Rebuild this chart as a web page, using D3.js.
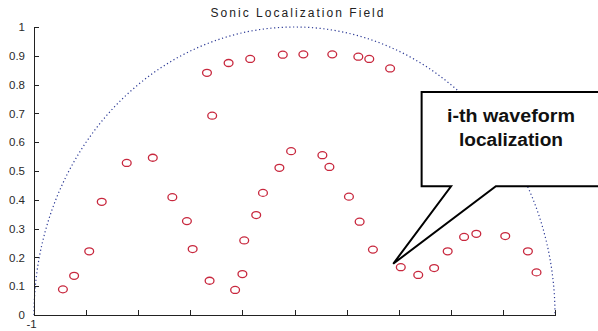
<!DOCTYPE html>
<html>
<head>
<meta charset="utf-8">
<script src="https://cdn.jsdelivr.net/npm/d3@7"></script>
<style>
  html, body { margin: 0; padding: 0; background: #fff; }
  svg { display: block; font-family: "Liberation Sans", Arial, sans-serif; }
  .axis path, .axis line { stroke: #222; shape-rendering: crispEdges; }
  .axis text { font-size: 11.5px; fill: #2a2a2a; }
</style>
</head>
<body>
<div id="chart"></div>
<script>
// localized positions (x, y)
const pointX = [
  -0.889, -0.846, -0.788, -0.740, -0.644, -0.544, -0.469, -0.413, -0.391, -0.326,
  -0.228, -0.200, -0.193, -0.147, -0.121, -0.058, -0.013, 0.107, 0.134, 0.209,
  0.250, 0.301, 0.408, 0.475, 0.536, 0.588, 0.651, 0.698, 0.809, 0.896, 0.929,
  -0.336, -0.316, -0.253, -0.170, -0.045, 0.034, 0.145, 0.245, 0.287, 0.367
];
const pointY = [
  0.089, 0.136, 0.221, 0.393, 0.528, 0.546, 0.409, 0.326, 0.229, 0.119,
  0.087, 0.142, 0.259, 0.347, 0.424, 0.511, 0.569, 0.555, 0.514, 0.411,
  0.324, 0.227, 0.166, 0.139, 0.163, 0.221, 0.271, 0.282, 0.274, 0.221, 0.148,
  0.841, 0.692, 0.875, 0.889, 0.904, 0.905, 0.905, 0.897, 0.889, 0.856
];
const yTicks = [0, 0.1, 0.2, 0.3, 0.4, 0.5, 0.6, 0.7, 0.8, 0.9, 1];
const yTickLabels = ["0", "0.1", "0.2", "0.3", "0.4", "0.5", "0.6", "0.7", "0.8", "0.9", "1"];
const xTicks = [-1, -0.8, -0.6, -0.4, -0.2, 0, 0.2, 0.4, 0.6, 0.8, 1];
const xTickLabels = ["-1", "", "", "", "", "", "", "", "", "", ""];
const title = "Sonic Localization Field";
const calloutLines = ["i-th waveform", "localization"];
// callout in data units: tip, box corners, pointer base
const calloutTip = [0.379, 0.178];
const calloutBox = {left: 0.488, right: 1.25, top: 0.774, bottom: 0.447};
const calloutBase = [0.601, 0.773];
const calloutTextX = 0.831;

const width = 598, height = 331;
const svg = d3.select("#chart").append("svg").attr("width", width).attr("height", height);
svg.append("rect").attr("width", width).attr("height", height).attr("fill", "#fff");

const x = d3.scaleLinear().domain([-1, 1]).range([34, 555]);
const y = d3.scaleLinear().domain([0, 1]).range([315, 27]);

// dotted unit half circle
const rx = x(1) - x(0), ry = y(0) - y(1);
svg.append("path")
  .attr("d", `M${x(-1)},${y(0)} A${rx},${ry} 0 0 1 ${x(1)},${y(0)}`)
  .attr("fill", "none")
  .attr("stroke", "#2c3a96")
  .attr("stroke-width", 1.2)
  .attr("stroke-dasharray", "1.2,2.6");

svg.append("g").attr("class", "axis")
  .attr("transform", `translate(${x(-1)},0)`)
  .call(d3.axisLeft(y).tickValues(yTicks).tickSizeInner(-5).tickSizeOuter(0).tickPadding(9)
    .tickFormat((d, i) => yTickLabels[i]));

svg.append("g").attr("class", "axis")
  .attr("transform", `translate(0,${y(0)})`)
  .call(d3.axisBottom(x).tickValues(xTicks).tickSizeInner(-5).tickSizeOuter(0).tickPadding(5)
    .tickFormat((d, i) => xTickLabels[i]))
  .selectAll("text").attr("dx", "-3");

svg.selectAll("ellipse.pt")
  .data(pointX.map((v, i) => [v, pointY[i]]))
  .join("ellipse")
  .attr("class", "pt")
  .attr("cx", (d) => x(d[0]))
  .attr("cy", (d) => y(d[1]))
  .attr("rx", 4.4)
  .attr("ry", 3.5)
  .attr("fill", "none")
  .attr("stroke", "#c8283e")
  .attr("stroke-width", 1.3);

svg.append("text")
  .attr("x", 297)
  .attr("y", 17)
  .attr("text-anchor", "middle")
  .attr("font-size", 12)
  .attr("fill", "#222")
  .attr("textLength", 173)
  .attr("lengthAdjust", "spacing")
  .text(title);

// callout box with pointer
const b = calloutBox;
const callout = [
  [b.left, b.top], [b.right, b.top], [b.right, b.bottom],
  [calloutBase[1], b.bottom], calloutTip, [calloutBase[0], b.bottom], [b.left, b.bottom]
];
svg.append("path")
  .attr("d", d3.line().x((d) => x(d[0])).y((d) => y(d[1]))(callout) + "Z")
  .attr("fill", "#fff")
  .attr("stroke", "#000")
  .attr("stroke-width", 2)
  .attr("stroke-linejoin", "miter");

svg.append("text")
  .attr("x", x(calloutTextX))
  .attr("y", 122)
  .attr("text-anchor", "middle")
  .attr("font-size", 18)
  .attr("font-weight", "bold")
  .attr("fill", "#111")
  .selectAll("tspan")
  .data(calloutLines)
  .join("tspan")
  .attr("x", x(calloutTextX))
  .attr("dy", (d, i) => (i === 0 ? 0 : 23.5))
  .attr("textLength", (d, i) => (i === 0 ? 128 : 104))
  .attr("lengthAdjust", "spacingAndGlyphs")
  .text((d) => d);
</script>
</body>
</html>
